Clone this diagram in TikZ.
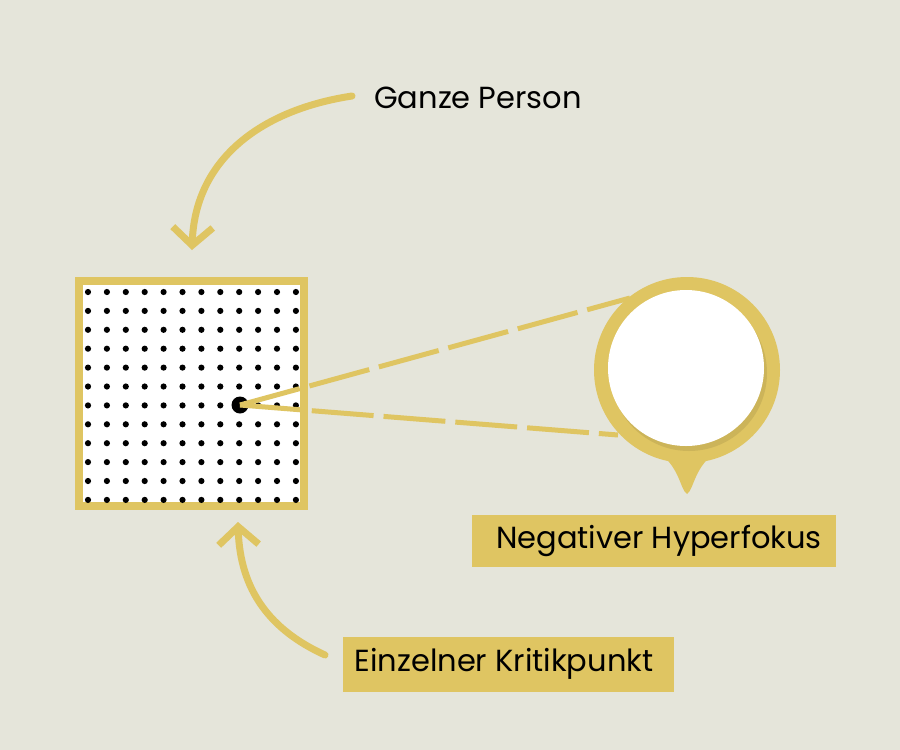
\documentclass[tikz,border=0pt]{standalone}
\usepackage{fontspec}
\setmainfont{Poppins}
\usetikzlibrary{arrows.meta}
\definecolor{bg}{HTML}{E5E5DA}
\definecolor{gold}{HTML}{DFC562}
\definecolor{shadow}{HTML}{B5A050}
\begin{document}
\begin{tikzpicture}[x=1pt,y=-1pt,
  lbl/.style={font=\fontsize{30.5}{34}\selectfont, text=black, inner sep=0pt},
  goldbox/.style={fill=gold, minimum height=#1},
  curv/.style={draw=gold, line width=7, line cap=round, -{Straight Barb[length=18pt,width=40pt,line width=7pt]}},
  dashln/.style={draw=gold, line width=5, dash pattern=on 62pt off 10pt}]
\fill[bg] (0,0) rectangle (900,750);
\useasboundingbox (0,0) rectangle (900,750);
% square
\node (sq) [draw=gold, line width=8, fill=white, minimum width=225, minimum height=225, inner sep=0] at (191.5,393.5) {};
\foreach \i in {0,...,11}{\foreach \j in {0,...,11}{
  \fill (88+\i*18.9, 292+\j*18.9) circle (3.1);}}
\node (dot) [circle, fill=black, minimum size=17, inner sep=0] at (240,405) {};
% magnifier
\fill[gold] (687,370) circle (93);
\fill[gold] (655,450) .. controls (680,465) and (680,490) .. (687,494) .. controls (694,490) and (694,465) .. (719,450) -- cycle;
\coordinate (t1) at (630,298);
\coordinate (t2) at (618,435);
\draw[dashln] (dot.center) -- (t1);
\draw[dashln] (dot.center) -- (t2);
\fill[gold] (687,370) circle (80);
\fill[shadow, opacity=0.45] (689,373) circle (78);
\node (lens) [circle, fill=white, minimum size=156, inner sep=0] at (686,368) {};
% labels
\node (gp) [lbl] at (478,98) {Ganze Person};
\node (nh) [goldbox=52, minimum width=364, inner sep=0] at (654,541) {};
\node [lbl] at (659,541) {Negativer Hyperfokus};
\node (ek) [goldbox=55, minimum width=331, inner sep=0] at (508.5,664.5) {};
\node [lbl] at (504,664) {Einzelner Kritikpunkt};
% arrows
\coordinate (a1) at (352,96);
\coordinate (a2) at (192,250);
\draw[curv] (a1) .. controls (260,110) and (195,160) .. (a2);
\coordinate (b1) at (325,655);
\coordinate (b2) at (238,522);
\draw[curv] (b1) .. controls (270,630) and (240,590) .. (b2);
\end{tikzpicture}
\end{document}
